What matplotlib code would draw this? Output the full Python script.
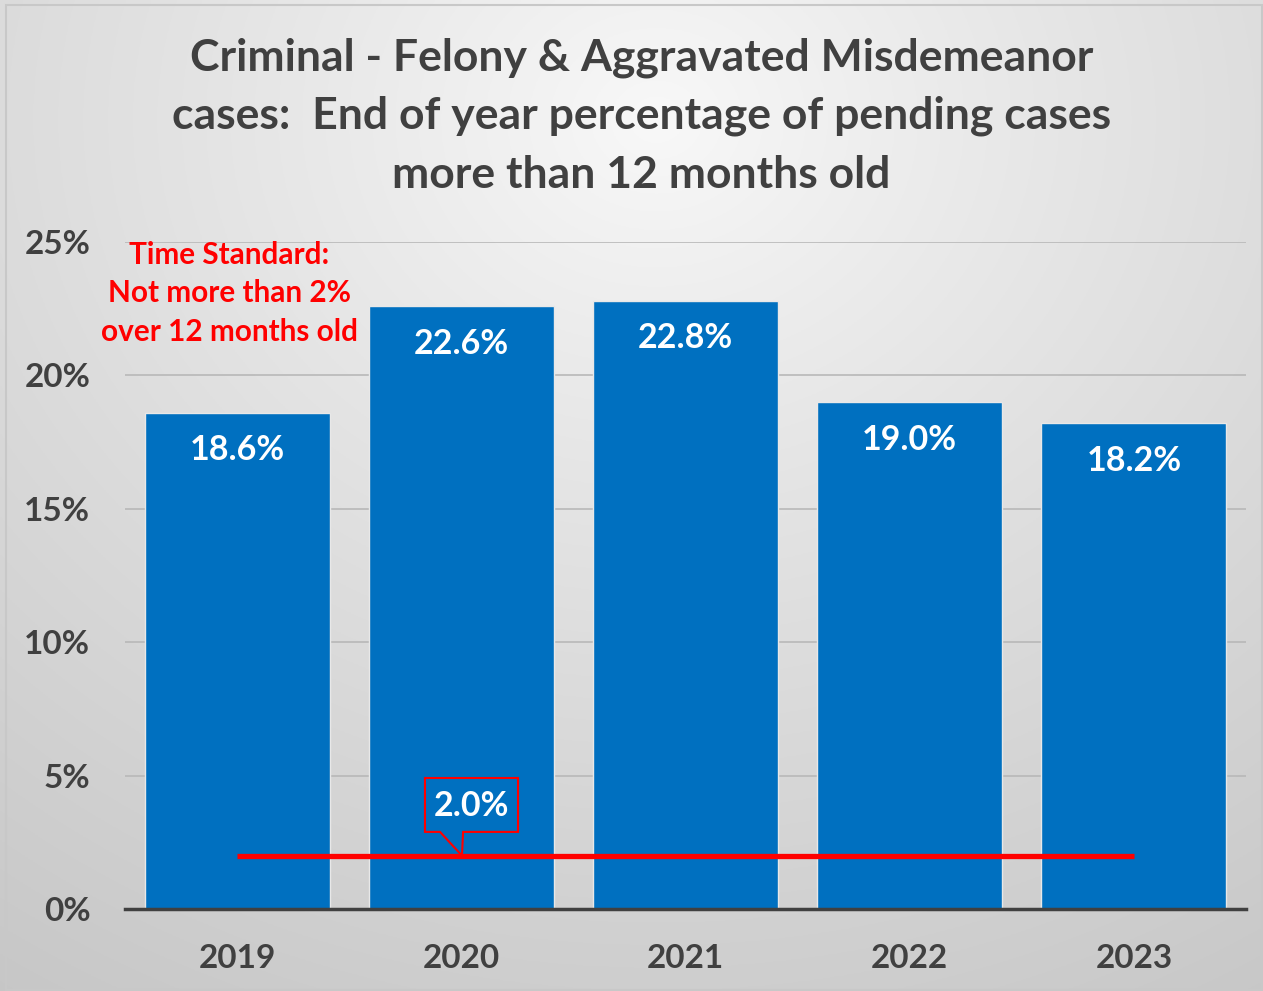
import numpy as np
import matplotlib.pyplot as plt
from matplotlib.patches import Rectangle, Polygon

years = ['2019', '2020', '2021', '2022', '2023']
pct_pending = [18.6, 22.6, 22.8, 19.0, 18.2]
time_standard = 2.0
yticks = [0, 5, 10, 15, 20, 25]

plt.rcParams['font.family'] = ['Lato', 'DejaVu Sans']
plt.rcParams['font.weight'] = 'bold'
txt = '#404040'
blue = '#0070C0'
red = '#FF0000'

fig = plt.figure(figsize=(12.63, 9.91), dpi=100)

# radial gray gradient background
bg = fig.add_axes([0, 0, 1, 1], zorder=-10)
yy, xx = np.mgrid[0:1:400j, 0:1:500j]
r = np.sqrt(((xx - 0.52) / 1.0) ** 2 + ((yy - 0.12) / 1.1) ** 2)
r = np.clip(r / 0.95, 0, 1)
c0 = np.array([0.975, 0.975, 0.975])
c1 = np.array([0.78, 0.78, 0.78])
img = c0 + (c1 - c0) * r[..., None] ** 0.9
bg.imshow(img, extent=[0, 1, 0, 1], aspect='auto', origin='upper')
bg.axis('off')
fig.patches.append(Rectangle((6 / 1263, 1 - 990 / 991), 1256 / 1263, 985 / 991,
                             transform=fig.transFigure, fill=False,
                             edgecolor='#c8c8c8', lw=1.5))

ax = fig.add_axes([125 / 1263, 1 - 909 / 991, 1121 / 1263, 667 / 991])
ax.patch.set_alpha(0)
x = np.arange(len(years))
ax.bar(x, pct_pending, width=0.825, color=blue, edgecolor='#e8e8e8', lw=1, zorder=3)
ax.set_xlim(-0.5, 4.5)
ax.set_ylim(0, 25)
ax.set_yticks(yticks)
ax.set_yticklabels([f'{v}%' for v in yticks], fontsize=24, color=txt, fontweight='bold')
ax.set_xticks(x)
ax.set_xticklabels(years, fontsize=24, color=txt, fontweight='bold')
ax.tick_params(length=0)
ax.tick_params(axis='y', pad=25)
ax.tick_params(axis='x', pad=25)
ax.grid(axis='y', color='#b8b8b8', lw=1.2, zorder=0)
for s in ['top', 'right', 'left']:
    ax.spines[s].set_visible(False)
ax.spines['bottom'].set_color('#404040')
ax.spines['bottom'].set_linewidth(2.5)
ax.spines['bottom'].set_zorder(5)

for xi, v in zip(x, pct_pending):
    ax.annotate(f'{v:.1f}%', (xi, v), xytext=(0, -27), textcoords='offset points',
                ha='center', va='center', color='white', fontsize=24.5, fontweight='bold', zorder=6)

# time standard line
ax.plot([x[0], x[-1]], [time_standard, time_standard], color=red, lw=3.8, zorder=6,
        solid_capstyle='butt')

# callout box for 2.0%
box = Polygon([(0.838, 4.91), (1.253, 4.91), (1.253, 2.89), (1.008, 2.89),
               (1.003, time_standard), (0.905, 2.89), (0.838, 2.89)],
              closed=True, fill=False, edgecolor=red, lw=1.5, zorder=6)
ax.add_patch(box)
ax.text(1.045, 3.85, f'{time_standard:.1f}%', ha='center', va='center', color='white',
        fontsize=24.5, fontweight='bold', zorder=7)

ax.text(-0.035, 25.05, 'Time Standard:\nNot more than 2%\nover 12 months old', ha='center',
        va='top', color=red, fontsize=21.4, fontweight='bold', linespacing=1.47,
        zorder=7)

fig.text(0.508, 1 - 116 / 991,
         'Criminal - Felony & Aggravated Misdemeanor\ncases:  End of year percentage of pending cases\nmore than 12 months old',
         ha='center', va='center', fontsize=32, color=txt, fontweight='bold', linespacing=1.55)

fig.savefig('out.png', dpi=100)
